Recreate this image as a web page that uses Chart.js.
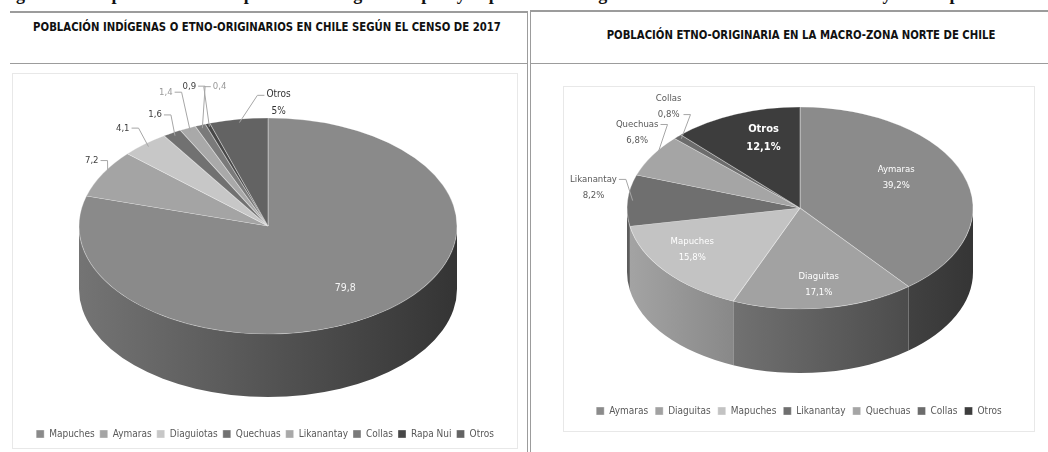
<!DOCTYPE html>
<html lang="es">
<head>
<meta charset="utf-8">
<script src="https://cdn.jsdelivr.net/npm/chart.js@4.4.1/dist/chart.umd.min.js"></script>
<style>
  html, body { margin: 0; padding: 0; background: #fff; }
  body { width: 1048px; height: 452px; position: relative; overflow: hidden;
         font-family: 'DejaVu Sans Condensed', 'DejaVu Sans', sans-serif; }
  .caption { position: absolute; left: 0; top: -16px; white-space: nowrap;
             font: bold 18px 'Liberation Serif', serif; color: #111; }
  .hline { position: absolute; height: 0; border-top: 2px solid #9c9c9c; }
  .vline { position: absolute; width: 0; border-left: 1px solid #9c9c9c; }
  .title { position: absolute; font-weight: bold; font-size: 12.5px; color: #111;
           white-space: nowrap; transform: translateX(-50%) scaleX(0.9); }
  .frame { position: absolute; border: 1px solid #e8e8e8; box-sizing: border-box; }
  canvas { position: absolute; }
</style>
</head>
<body>
<div class="caption">Figura 1. Comparativo entre la población indígena del país y la población indígena de la macrozona norte de Chile y su composición</div>

<div class="hline" style="left:10px; top:11px; width:517px;"></div>
<div class="hline" style="left:530px; top:10px; width:518px;"></div>
<div class="vline" style="left:527px; top:11px; height:441px;"></div>
<div class="vline" style="left:530px; top:10px; height:442px;"></div>
<div class="hline" style="left:10px; top:63px; width:517px; border-top-width:1px;"></div>
<div class="hline" style="left:530px; top:63px; width:518px; border-top-width:1px;"></div>

<div class="title" style="left:267px; top:19px;">POBLACIÓN INDÍGENAS O ETNO-ORIGINARIOS EN CHILE SEGÚN EL CENSO DE 2017</div>
<div class="title" style="left:801px; top:27px;">POBLACIÓN ETNO-ORIGINARIA EN LA MACRO-ZONA NORTE DE CHILE</div>

<div class="frame" style="left:12px; top:73px; width:506px; height:376px;"></div>
<div class="frame" style="left:563px; top:86px; width:472px; height:346px;"></div>

<canvas id="left" width="506" height="376" style="left:12px; top:73px;"></canvas>
<canvas id="right" width="472" height="346" style="left:563px; top:86px;"></canvas>

<script>
// left chart: whole country, census 2017
const leftLabels = ['Mapuches', 'Aymaras', 'Diaguiotas', 'Quechuas', 'Likanantay', 'Collas', 'Rapa Nui', 'Otros'];
const leftValues = [79.8, 7.2, 4.1, 1.6, 1.4, 0.9, 0.4, 5];
const leftColors = ['#8a8a8a', '#a4a4a4', '#c7c7c7', '#717171', '#a9a9a9', '#7a7a7a', '#474747', '#636363'];

// right chart: northern macro-zone
const rightLabels = ['Aymaras', 'Diaguitas', 'Mapuches', 'Likanantay', 'Quechuas', 'Collas', 'Otros'];
const rightValues = [39.2, 17.1, 15.8, 8.2, 6.8, 0.8, 12.1];
const rightColors = ['#8b8b8b', '#a2a2a2', '#c3c3c3', '#6f6f6f', '#a5a5a5', '#6c6c6c', '#3d3d3d'];

const FONT = "'DejaVu Sans Condensed', 'DejaVu Sans', sans-serif";

function shade(hex, f) {
    const n = parseInt(hex.slice(1), 16);
    const r = Math.round(((n >> 16) & 255) * f);
    const g = Math.round(((n >> 8) & 255) * f);
    const b = Math.round((n & 255) * f);
    return 'rgb(' + r + ',' + g + ',' + b + ')';
}

const comma = v => String(v).replace('.', ',');

// squashes the flat pie onto an ellipse and adds the side wall + labels
function pie3d(spec) {
    return {
        id: 'pie3d',
        beforeDatasetsDraw(chart) {
            const { ctx } = chart;
            const arcs = chart.getDatasetMeta(0).data;
            const colors = chart.data.datasets[0].backgroundColor;
            const { cx, cy, rx, ry, depth } = spec;

            // front wall, only the part facing us (0..PI)
            arcs.forEach((arc, i) => {
                const a = Math.max(arc.startAngle, 0);
                const b = Math.min(arc.endAngle, Math.PI);
                if (b <= a) return;
                const g = ctx.createLinearGradient(cx - rx, 0, cx + rx, 0);
                g.addColorStop(0, shade(colors[i], 0.84));
                g.addColorStop(1, shade(colors[i], 0.38));
                ctx.beginPath();
                ctx.ellipse(cx, cy, rx, ry, 0, a, b);
                ctx.ellipse(cx, cy + depth, rx, ry, 0, b, a, true);
                ctx.closePath();
                ctx.fillStyle = g;
                ctx.fill();
            });

            const { x, y, outerRadius } = arcs[0];
            ctx.save();
            ctx.translate(cx, cy);
            ctx.scale(rx / outerRadius, ry / outerRadius);
            ctx.translate(-x, -y);
        },
        afterDatasetsDraw(chart) {
            const { ctx } = chart;
            ctx.restore();

            const arcs = chart.getDatasetMeta(0).data;
            const labels = chart.data.labels;
            const values = chart.data.datasets[0].data;
            const { cx, cy, rx, ry } = spec;

            ctx.save();
            ctx.textAlign = 'center';
            ctx.textBaseline = 'middle';
            arcs.forEach((arc, i) => {
                const s = spec.spots[i];
                const mid = (arc.startAngle + arc.endAngle) / 2;
                const cos = Math.cos(mid), sin = Math.sin(mid);
                const lines = spec.format(labels[i], values[i]);
                ctx.font = (s.bold ? 'bold ' : '') + (s.size || 9.5) + 'px ' + FONT;
                const lh = s.lh || 16;
                let tx, ty;
                if (s.f) {
                    tx = cx + rx * s.f * cos + (s.dx || 0);
                    ty = cy + ry * s.f * sin + (s.dy || 0);
                } else {
                    const ex = cx + rx * 0.97 * cos, ey = cy + ry * 0.97 * sin;
                    tx = cx + rx * cos + s.dx;
                    ty = cy + ry * sin + s.dy;
                    // leader line
                    const w = Math.max(...lines.map(t => ctx.measureText(t).width));
                    const ly = ty + (s.ay || 0);
                    const dir = ex >= tx ? 1 : -1;
                    const sx = tx + dir * (w / 2 + 2);
                    ctx.beginPath();
                    ctx.moveTo(sx, ly);
                    ctx.lineTo(sx + dir * 7, ly);
                    ctx.lineTo(ex, ey);
                    ctx.strokeStyle = '#a6a6a6';
                    ctx.lineWidth = 1;
                    ctx.stroke();
                }
                ctx.fillStyle = s.color || '#404040';
                lines.forEach((t, k) => {
                    ctx.fillText(t, tx, ty + (k - (lines.length - 1) / 2) * lh);
                });
            });
            ctx.restore();
        }
    };
}

function makeConfig(labels, values, colors, padBottom, gap, plugin) {
    return {
        type: 'pie',
        data: {
            labels: labels,
            datasets: [{
                data: values,
                backgroundColor: colors,
                borderColor: 'rgba(255,255,255,0.35)',
                borderWidth: 1,
                clip: false
            }]
        },
        options: {
            responsive: false,
            animation: false,
            events: [],
            layout: { padding: { bottom: padBottom } },
            plugins: {
                tooltip: { enabled: false },
                legend: {
                    position: 'bottom',
                    labels: {
                        boxWidth: 8,
                        boxHeight: 8,
                        padding: gap,
                        color: '#595959',
                        font: { size: 10, family: FONT }
                    }
                }
            }
        },
        plugins: [plugin]
    };
}

const leftPlugin = pie3d({
    cx: 256, cy: 153, rx: 189, ry: 108, depth: 63,
    format: (label, v) => label === 'Otros' ? ['Otros', v + '%'] : [comma(v)],
    spots: [
        { f: 0.68, dy: 4, color: '#f4f4f4', size: 10.5 },
        { dx: -11, dy: -13 },
        { dx: -22, dy: -16 },
        { dx: -17, dy: -18 },
        { dx: -22, dy: -36, color: '#9a9a9a' },
        { dx: -11, dy: -39 },
        { dx: 12, dy: -37, color: '#9a9a9a' },
        { dx: 40, dy: -16, size: 10, lh: 17, ay: -8, color: '#333333' }
    ]
});

const rightPlugin = pie3d({
    cx: 237, cy: 122, rx: 173, ry: 101, depth: 64,
    format: (label, v) => [label, comma(v) + '%'],
    spots: [
        { f: 0.59, dy: -11, color: '#ffffff' },
        { f: 0.77, color: '#ffffff' },
        { f: 0.8, dy: -9, color: '#ffffff' },
        { dx: -34, dy: -13, ay: -8, color: '#595959' },
        { dx: -15, dy: -23, ay: -8, color: '#595959' },
        { dx: -9, dy: -30, ay: 8, color: '#595959' },
        { f: 0.74, dx: 11, color: '#ffffff', bold: true, size: 11, lh: 18 }
    ]
});

new Chart(document.getElementById('left'),
    makeConfig(leftLabels, leftValues, leftColors, 0, 5, leftPlugin));
new Chart(document.getElementById('right'),
    makeConfig(rightLabels, rightValues, rightColors, 6, 7, rightPlugin));
</script>
</body>
</html>
